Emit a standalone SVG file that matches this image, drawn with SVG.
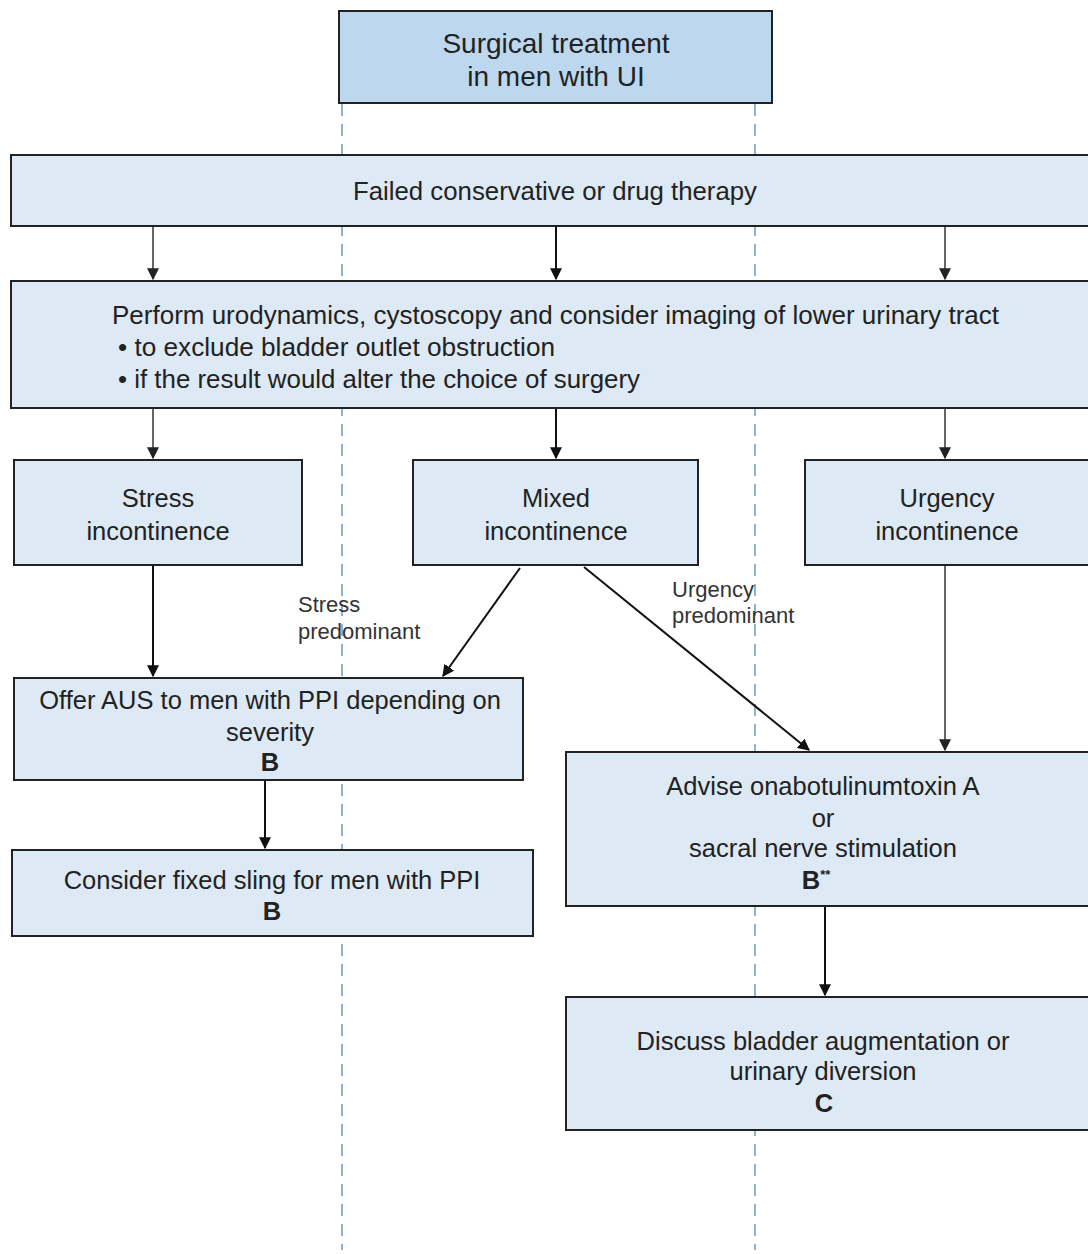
<svg xmlns="http://www.w3.org/2000/svg" width="1088" height="1254" viewBox="0 0 1088 1254">
<style>
text{font-family:"Liberation Sans",Arial,sans-serif;fill:#222;font-size:25.5px}
.c{text-anchor:middle}
.b{font-weight:bold}
.t{font-size:28px}
.w{font-size:26px}
.box{fill:#dde9f5;stroke:#222;stroke-width:2}
.top{fill:#bdd7ee;stroke:#222;stroke-width:2}
.lbl{font-size:22px;fill:#333}
.sup{font-size:13px}
.guide{stroke:#6b9bb8;stroke-width:1.5;stroke-dasharray:12 8;fill:none}
.k{stroke:#111;stroke-width:2;fill:none;marker-end:url(#ak)}
.g{stroke:#666;stroke-width:2;fill:none;marker-end:url(#ag)}
</style>
<defs>
<marker id="ak" viewBox="0 0 10 10" refX="9" refY="5" markerWidth="6" markerHeight="6" orient="auto" markerUnits="strokeWidth"><path d="M0,0 L10,5 L0,10 z" fill="#111"/></marker>
<marker id="ag" viewBox="0 0 10 10" refX="9" refY="5" markerWidth="6" markerHeight="6" orient="auto" markerUnits="strokeWidth"><path d="M0,0 L10,5 L0,10 z" fill="#222"/></marker>
</defs>
<rect width="1088" height="1254" fill="#fff"/>
<g id="guides">
<line class="guide" x1="342" y1="104" x2="342" y2="1250"/>
<line class="guide" x1="755" y1="104" x2="755" y2="1250"/>
</g>
<g id="connectors">
<line class="g" x1="153" y1="227" x2="153" y2="279"/>
<line class="k" x1="556" y1="227" x2="556" y2="279"/>
<line class="g" x1="945" y1="227" x2="945" y2="279"/>
<line class="g" x1="153" y1="409" x2="153" y2="458"/>
<line class="k" x1="556" y1="409" x2="556" y2="458"/>
<line class="g" x1="945" y1="409" x2="945" y2="458"/>
<line class="k" x1="153" y1="566" x2="153" y2="676"/>
<line class="k" x1="520" y1="568" x2="443" y2="676"/>
<line class="k" x1="584" y1="567" x2="809" y2="750"/>
<line class="g" x1="945" y1="566" x2="945" y2="750"/>
<line class="k" x1="265" y1="781" x2="265" y2="848"/>
<line class="k" x1="825" y1="907" x2="825" y2="995"/>
</g>
<g id="n-top">
<rect class="top" x="339" y="11" width="433" height="92"/>
<text class="c t" x="556" y="53">Surgical treatment</text>
<text class="c t" x="556" y="86">in men with UI</text>
</g>
<g id="n-failed">
<rect class="box" x="11" y="155" width="1090" height="71"/>
<text class="c w" x="555" y="200" textLength="404" lengthAdjust="spacingAndGlyphs">Failed conservative or drug therapy</text>
</g>
<g id="n-perform">
<rect class="box" x="11" y="281" width="1090" height="127"/>
<text class="w" x="112" y="324" textLength="887" lengthAdjust="spacingAndGlyphs">Perform urodynamics, cystoscopy and consider imaging of lower urinary tract</text>
<text class="w" x="118" y="356" textLength="437" lengthAdjust="spacingAndGlyphs">• to exclude bladder outlet obstruction</text>
<text class="w" x="118" y="388" textLength="522" lengthAdjust="spacingAndGlyphs">• if the result would alter the choice of surgery</text>
</g>
<g id="n-stress">
<rect class="box" x="14" y="460" width="288" height="105"/>
<text class="c" x="158" y="507">Stress</text>
<text class="c" x="158" y="540">incontinence</text>
</g>
<g id="n-mixed">
<rect class="box" x="413" y="460" width="285" height="105"/>
<text class="c" x="556" y="507">Mixed</text>
<text class="c" x="556" y="540">incontinence</text>
</g>
<g id="n-urgency">
<rect class="box" x="805" y="460" width="296" height="105"/>
<text class="c" x="947" y="507">Urgency</text>
<text class="c" x="947" y="540">incontinence</text>
</g>
<g id="lbl-stress">
<text class="lbl" x="298" y="612">Stress</text>
<text class="lbl" x="298" y="639">predominant</text>
</g>
<g id="lbl-urgency">
<text class="lbl" x="672" y="597">Urgency</text>
<text class="lbl" x="672" y="623">predominant</text>
</g>
<g id="n-offer">
<rect class="box" x="14" y="678" width="509" height="102"/>
<text class="c" x="270" y="709">Offer AUS to men with PPI depending on</text>
<text class="c" x="270" y="741">severity</text>
<text class="c b" x="270" y="771">B</text>
</g>
<g id="n-consider">
<rect class="box" x="12" y="850" width="521" height="86"/>
<text class="c" x="272" y="889">Consider fixed sling for men with PPI</text>
<text class="c b" x="272" y="920">B</text>
</g>
<g id="n-advise">
<rect class="box" x="566" y="752" width="535" height="154"/>
<text class="c" x="823" y="795">Advise onabotulinumtoxin A</text>
<text class="c" x="823" y="827">or</text>
<text class="c" x="823" y="857">sacral nerve stimulation</text>
<text class="c b" x="816" y="889">B<tspan class="sup" dy="-10">**</tspan></text>
</g>
<g id="n-discuss">
<rect class="box" x="566" y="997" width="535" height="133"/>
<text class="c" x="823" y="1050">Discuss bladder augmentation or</text>
<text class="c" x="823" y="1080">urinary diversion</text>
<text class="c b" x="824" y="1112">C</text>
</g>
</svg>
